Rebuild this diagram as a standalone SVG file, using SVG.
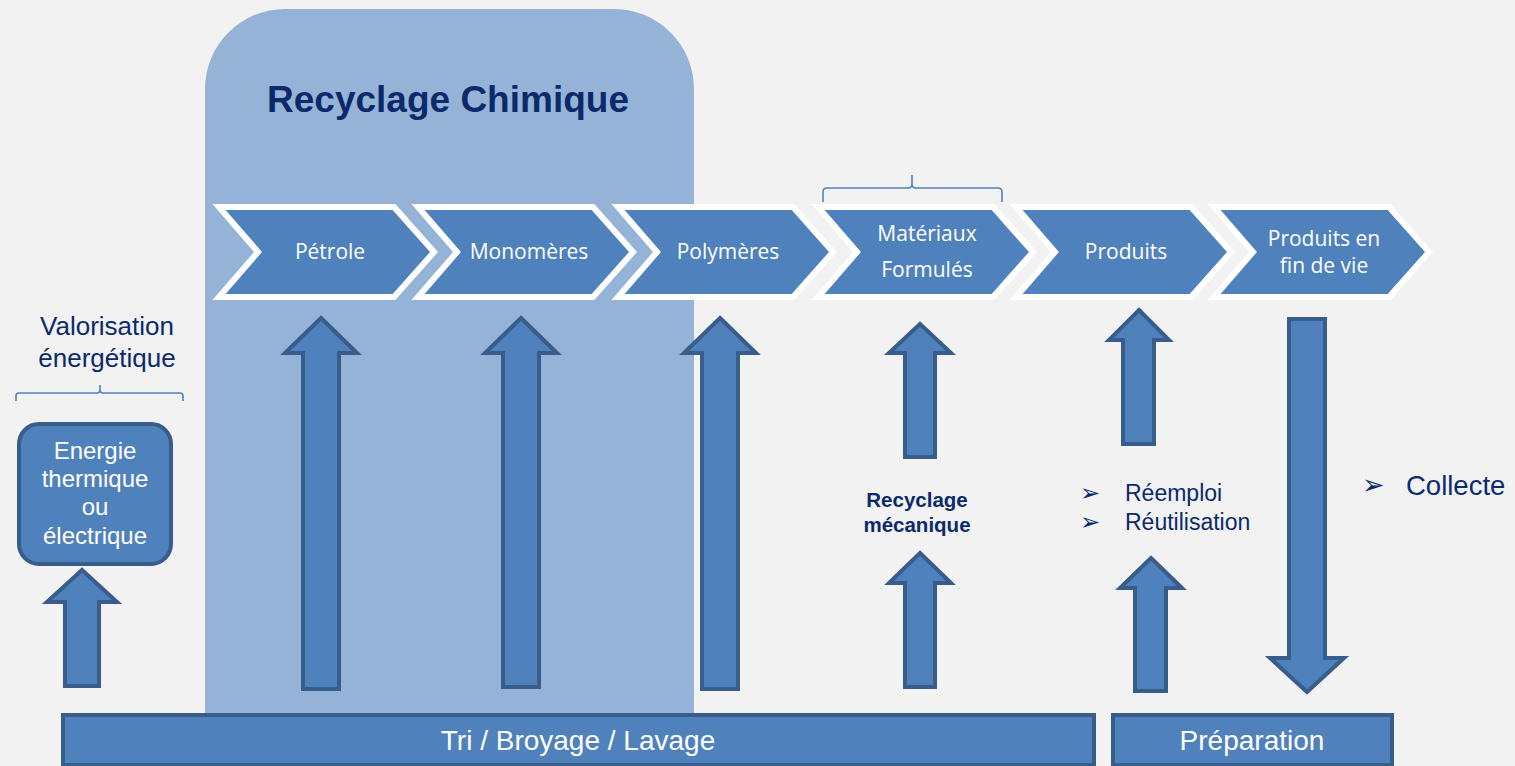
<svg xmlns="http://www.w3.org/2000/svg" width="1515" height="766" viewBox="0 0 1515 766">
  <defs>
    <style>
      .chev { fill: #4F81BD; stroke: #FFFFFF; stroke-width: 6; stroke-linejoin: miter; }
      .chev-t { font-family: "Open Sans", "Liberation Sans", sans-serif; font-size: 21px; fill: #FFFFFF; text-anchor: middle; }
      .arr { fill: #4F81BD; stroke: #385D8A; stroke-width: 4; stroke-linejoin: miter; }
      .bar { fill: #4F81BD; stroke: #385D8A; stroke-width: 4; }
      .bar-t { font-family: "Liberation Sans", Arial, sans-serif; font-size: 28px; fill: #FFFFFF; text-anchor: middle; }
      .box-t { font-family: "Liberation Sans", Arial, sans-serif; font-size: 24px; fill: #FFFFFF; text-anchor: middle; }
      .navy { font-family: "Liberation Sans", Arial, sans-serif; fill: #0B2A6B; }
      .brace { fill: none; stroke: #4F81BD; stroke-width: 1.6; }
      .bullet { font-family: "DejaVu Sans", sans-serif; fill: #0B2A6B; }
    </style>
  </defs>

  <rect x="0" y="0" width="1515" height="766" fill="#F2F2F2"/>

  <!-- Chemical recycling zone -->
  <g id="zone-chimique">
    <path d="M205,720 L205,89 A80,80 0 0 1 285,9 L614,9 A80,80 0 0 1 694,89 L694,720 Z" fill="#95B3D7"/>
    <text x="448" y="112" class="navy" font-size="37" font-weight="bold" text-anchor="middle">Recyclage Chimique</text>
  </g>

  <!-- Value chain chevrons -->
  <g id="chevron-petrole">
    <polygon class="chev" points="219,207 394,207 434,252 394,297 219,297 258,252"/>
    <text class="chev-t" x="330" y="259">Pétrole</text>
  </g>
  <g id="chevron-monomeres">
    <polygon class="chev" points="418,207 593,207 633,252 593,297 418,297 457,252"/>
    <text class="chev-t" x="529" y="259">Monomères</text>
  </g>
  <g id="chevron-polymeres">
    <polygon class="chev" points="618,207 793,207 833,252 793,297 618,297 657,252"/>
    <text class="chev-t" x="728" y="259">Polymères</text>
  </g>
  <g id="chevron-materiaux">
    <polygon class="chev" points="818,207 993,207 1033,252 993,297 818,297 857,252"/>
    <text class="chev-t" x="927" y="241">Matériaux</text>
    <text class="chev-t" x="927" y="277">Formulés</text>
  </g>
  <g id="chevron-produits">
    <polygon class="chev" points="1016,207 1191,207 1231,252 1191,297 1016,297 1055,252"/>
    <text class="chev-t" x="1126" y="259">Produits</text>
  </g>
  <g id="chevron-fin-de-vie">
    <polygon class="chev" points="1214,207 1389,207 1429,252 1389,297 1214,297 1253,252"/>
    <text class="chev-t" x="1324" y="246">Produits en</text>
    <text class="chev-t" x="1324" y="273">fin de vie</text>
  </g>

  <!-- Brace over formulated materials -->
  <path class="brace" d="M823,202 L823,192 Q823,188 827,188 L908,188 Q912,188 912,184 L912,175 M912,184 Q912,188 916,188 L998,188 Q1002,188 1002,192 L1002,202"/>

  <!-- Energy recovery -->
  <g id="valorisation">
    <text class="navy" x="107" y="335" font-size="26" text-anchor="middle">Valorisation</text>
    <text class="navy" x="107" y="367" font-size="26" text-anchor="middle">énergétique</text>
    <path class="brace" d="M16,401 L16,396 Q16,393 19,393 L97,393 Q100,393 100,390 L100,385 M100,390 Q100,393 103,393 L180,393 Q183,393 183,396 L183,401"/>
  </g>
  <g id="energie">
    <rect x="19" y="424" width="152" height="140" rx="20" ry="20" fill="#4F81BD" stroke="#385D8A" stroke-width="4"/>
    <text class="box-t" x="95" y="459">Energie</text>
    <text class="box-t" x="95" y="487">thermique</text>
    <text class="box-t" x="95" y="515">ou</text>
    <text class="box-t" x="95" y="544">électrique</text>
  </g>

  <!-- Flow arrows -->
  <g id="connectors">
    <polygon class="arr" points="82,570 117,602 99,602 99,686 65,686 65,602 47,602"/>
    <polygon class="arr" points="321,318 357,353 339,353 339,689 303,689 303,353 285,353"/>
    <polygon class="arr" points="521,318 557,353 539,353 539,687 503,687 503,353 485,353"/>
    <polygon class="arr" points="720,318 756,353 738,353 738,689 702,689 702,353 684,353"/>
    <polygon class="arr" points="920,324 951,353 935,353 935,457 905,457 905,353 889,353"/>
    <polygon class="arr" points="920,553 951,583 935,583 935,687 905,687 905,583 889,583"/>
    <polygon class="arr" points="1139,310 1169,340 1154,340 1154,444 1123,444 1123,340 1109,340"/>
    <polygon class="arr" points="1151,558 1182,588 1166,588 1166,691 1135,691 1135,588 1120,588"/>
    <polygon class="arr" points="1289,319 1325,319 1325,658 1344,658 1307,692 1270,658 1289,658"/>
  </g>

  <!-- Mechanical recycling label -->
  <g id="recyclage-mecanique">
    <text class="navy" x="917" y="507" font-size="20.5" font-weight="bold" text-anchor="middle">Recyclage</text>
    <text class="navy" x="917" y="532" font-size="20.5" font-weight="bold" text-anchor="middle">mécanique</text>
  </g>

  <!-- Reuse labels -->
  <g id="reemploi">
    <text class="bullet" x="1080" y="501" font-size="24">➢</text>
    <text class="navy" x="1125" y="501" font-size="23">Réemploi</text>
    <text class="bullet" x="1080" y="530" font-size="24">➢</text>
    <text class="navy" x="1125" y="530" font-size="23">Réutilisation</text>
  </g>
  <g id="collecte">
    <text class="bullet" x="1362" y="494" font-size="27">➢</text>
    <text class="navy" x="1406" y="495" font-size="27.5">Collecte</text>
  </g>

  <!-- Base processes -->
  <g id="tri-broyage-lavage">
    <rect class="bar" x="63" y="715" width="1031" height="50"/>
    <text class="bar-t" x="578" y="750">Tri / Broyage / Lavage</text>
  </g>
  <g id="preparation">
    <rect class="bar" x="1113" y="715" width="279" height="50"/>
    <text class="bar-t" x="1252" y="750">Préparation</text>
  </g>
</svg>
